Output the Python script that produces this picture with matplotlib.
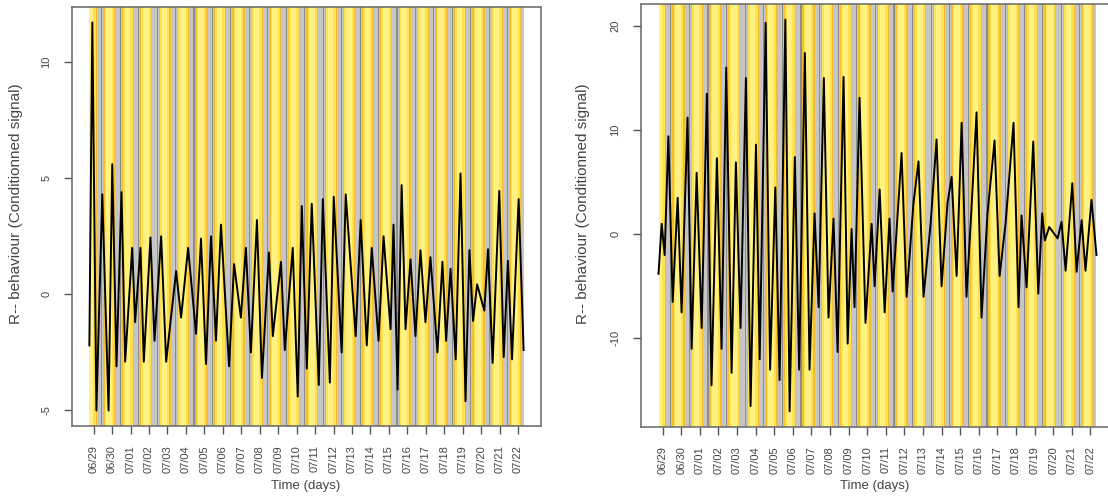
import numpy as np
import matplotlib.pyplot as plt

# tick labels, one per day
days = ['06/29', '06/30'] + ['07/%02d' % d for d in range(1, 23)]

# left panel: turning points of the signal (days after 06/29, value)
t_left = [-0.23, -0.07, 0.15, 0.47, 0.81, 1.01, 1.24, 1.51, 1.71, 2.09,
          2.25, 2.54, 2.72, 3.08, 3.30, 3.66, 3.93, 4.47, 4.74, 5.12,
          5.55, 5.82, 6.09, 6.36, 6.63, 6.90, 7.34, 7.61, 7.98, 8.25,
          8.52, 8.85, 9.12, 9.50, 9.71, 10.15, 10.36, 10.79, 11.06, 11.28,
          11.55, 11.82, 12.20, 12.42, 12.80, 13.01, 13.44, 13.66, 14.20, 14.47,
          14.80, 15.07, 15.44, 15.71, 16.09, 16.25, 16.47, 16.69, 16.90, 17.17,
          17.44, 17.71, 17.98, 18.25, 18.63, 18.90, 19.10, 19.34, 19.62, 19.88,
          20.15, 20.36, 20.56, 20.78, 21.17, 21.37, 21.62, 21.98, 22.22, 22.45,
          22.67, 23.03, 23.30]
v_left = [-2.2, 11.7, -5.0, 4.3, -5.0, 5.6, -3.1, 4.4, -2.9, 2.0,
          -1.2, 2.0, -2.9, 2.45, -2.0, 2.5, -2.9, 1.0, -1.0, 2.0,
          -1.7, 2.4, -3.0, 2.5, -2.0, 3.0, -3.1, 1.3, -1.0, 2.0,
          -2.5, 3.2, -3.6, 1.8, -1.8, 1.4, -2.4, 2.0, -4.4, 3.8,
          -3.2, 3.9, -3.9, 4.1, -3.8, 4.2, -2.5, 4.3, -1.8, 3.2,
          -2.2, 2.0, -2.0, 2.5, -1.5, 3.0, -4.1, 4.7, -1.5, 1.5,
          -1.8, 1.9, -1.2, 1.6, -2.5, 1.4, -2.0, 1.1, -2.8, 5.2,
          -4.6, 1.9, -1.15, 0.43, -0.7, 1.94, -2.95, 4.45, -2.7, 1.44,
          -2.8, 4.1, -2.4]

# right panel
t_right = [-0.22, -0.05, 0.11, 0.31, 0.54, 0.81, 1.02, 1.34, 1.56, 1.83,
           2.10, 2.38, 2.63, 2.92, 3.17, 3.42, 3.71, 3.94, 4.19, 4.48,
           4.73, 5.02, 5.22, 5.54, 5.78, 6.06, 6.29, 6.60, 6.83, 7.11,
           7.34, 7.65, 7.90, 8.17, 8.39, 8.67, 8.92, 9.19, 9.41, 9.73,
           9.95, 10.16, 10.32, 10.59, 10.91, 11.24, 11.40, 11.67, 11.94, 12.20,
           12.37, 12.85, 13.12, 13.49, 13.76, 14.03, 14.41, 14.73, 15.00, 15.32,
           15.54, 15.81, 16.08, 16.34, 16.61, 16.88, 17.15, 17.47, 17.85, 18.12,
           18.44, 18.87, 19.14, 19.30, 19.57, 19.93, 20.20, 20.41, 20.55, 20.79,
           21.24, 21.45, 21.67, 22.03, 22.26, 22.53, 22.74, 23.06, 23.33]
v_right = [-3.8, 1.0, -2.0, 9.4, -6.5, 3.5, -7.5, 11.2, -11.0, 5.9,
           -9.0, 13.5, -14.5, 7.3, -11.0, 16.0, -13.3, 6.9, -9.0, 15.0,
           -16.5, 8.6, -12.0, 20.3, -13.0, 4.5, -14.0, 20.6, -17.0, 7.4,
           -13.0, 17.4, -13.0, 2.0, -7.0, 15.0, -8.0, 1.5, -11.3, 15.1,
           -10.5, 0.5, -7.0, 13.1, -8.5, 1.0, -5.0, 4.3, -7.5, 1.5,
           -5.5, 7.8, -6.0, 3.0, 7.0, -6.0, 1.0, 9.1, -5.0, 3.0,
           5.5, -4.0, 10.7, -6.0, 2.5, 11.7, -8.0, 2.0, 9.0, -4.0,
           1.0, 10.7, -7.0, 1.8, -5.1, 8.9, -5.7, 2.0, -0.6, 0.7,
           -0.4, 1.2, -3.5, 4.9, -3.6, 1.35, -3.5, 3.3, -2.0]

plt.rcParams['font.family'] = ['Liberation Sans', 'DejaVu Sans']
txt = '#444444'

fig = plt.figure(figsize=(11.08, 4.97), dpi=100)
W, H = 1108.0, 497.0
ax1 = fig.add_axes([72 / W, 1 - 426 / H, (541 - 72) / W, (426 - 7) / H])
ax2 = fig.add_axes([641 / W, 1 - 427 / H, (1114 - 641) / W, (427 - 4) / H])


def bands(ax, t0, t1):
    # day (yellow, gold at dawn/dusk) and night (grey, dark line before dawn)
    for k in range(-1, 25):
        pieces = [(k - 0.48, k - 0.41, '#F4BE30'),
                  (k - 0.41, k - 0.32, '#FFE14F'),
                  (k - 0.32, k - 0.02, '#FFF182'),
                  (k - 0.02, k + 0.11, '#FFE14F'),
                  (k + 0.11, k + 0.18, '#F4BE30'),
                  (k + 0.18, k + 0.41, '#C6C6C6'),
                  (k + 0.41, k + 0.47, '#8C8C8C'),
                  (k + 0.47, k + 0.52, '#C6C6C6')]
        for a, b, c in pieces:
            a, b = max(a, t0), min(b, t1)
            if b > a:
                ax.axvspan(a, b, color=c, lw=0, zorder=0)


def panel(ax, t, v, yticks):
    bands(ax, t[0], t[-1])
    ax.plot(t, v, color='black', lw=1.4, zorder=2)
    dx = 0.04 * (t[-1] - t[0])
    dy = 0.04 * (max(v) - min(v))
    ax.set_xlim(t[0] - dx, t[-1] + dx)
    ax.set_ylim(min(v) - dy, max(v) + dy)
    ax.set_xticks(range(len(days)))
    ax.set_xticklabels(days, rotation=90)
    ax.set_yticks(yticks)
    ax.set_yticklabels([str(y) for y in yticks], rotation=90, va='center')
    ax.tick_params(axis='both', length=6, width=1, color='#555555',
                   labelsize=8, labelcolor=txt)
    ax.tick_params(axis='x', pad=8)
    ax.tick_params(axis='y', pad=9)
    for s in ax.spines.values():
        s.set_color('#666666')
        s.set_linewidth(1.1)


panel(ax1, t_left, v_left, [-5, 0, 5, 10])
panel(ax2, t_right, v_right, [-10, 0, 10, 20])

fig.text(306 / W, 1 - 486 / H, 'Time (days)', ha='center', va='center',
         fontsize=9.5, color=txt)
fig.text(875 / W, 1 - 486 / H, 'Time (days)', ha='center', va='center',
         fontsize=9.5, color=txt)
fig.text(16 / W, 1 - 204 / H, 'R-- behaviour (Conditionned signal)',
         rotation=90, ha='center', va='center', fontsize=11, color=txt)
fig.text(583 / W, 1 - 204 / H, 'R-- behaviour (Conditionned signal)',
         rotation=90, ha='center', va='center', fontsize=11, color=txt)

fig.savefig('out.png', dpi=100)
